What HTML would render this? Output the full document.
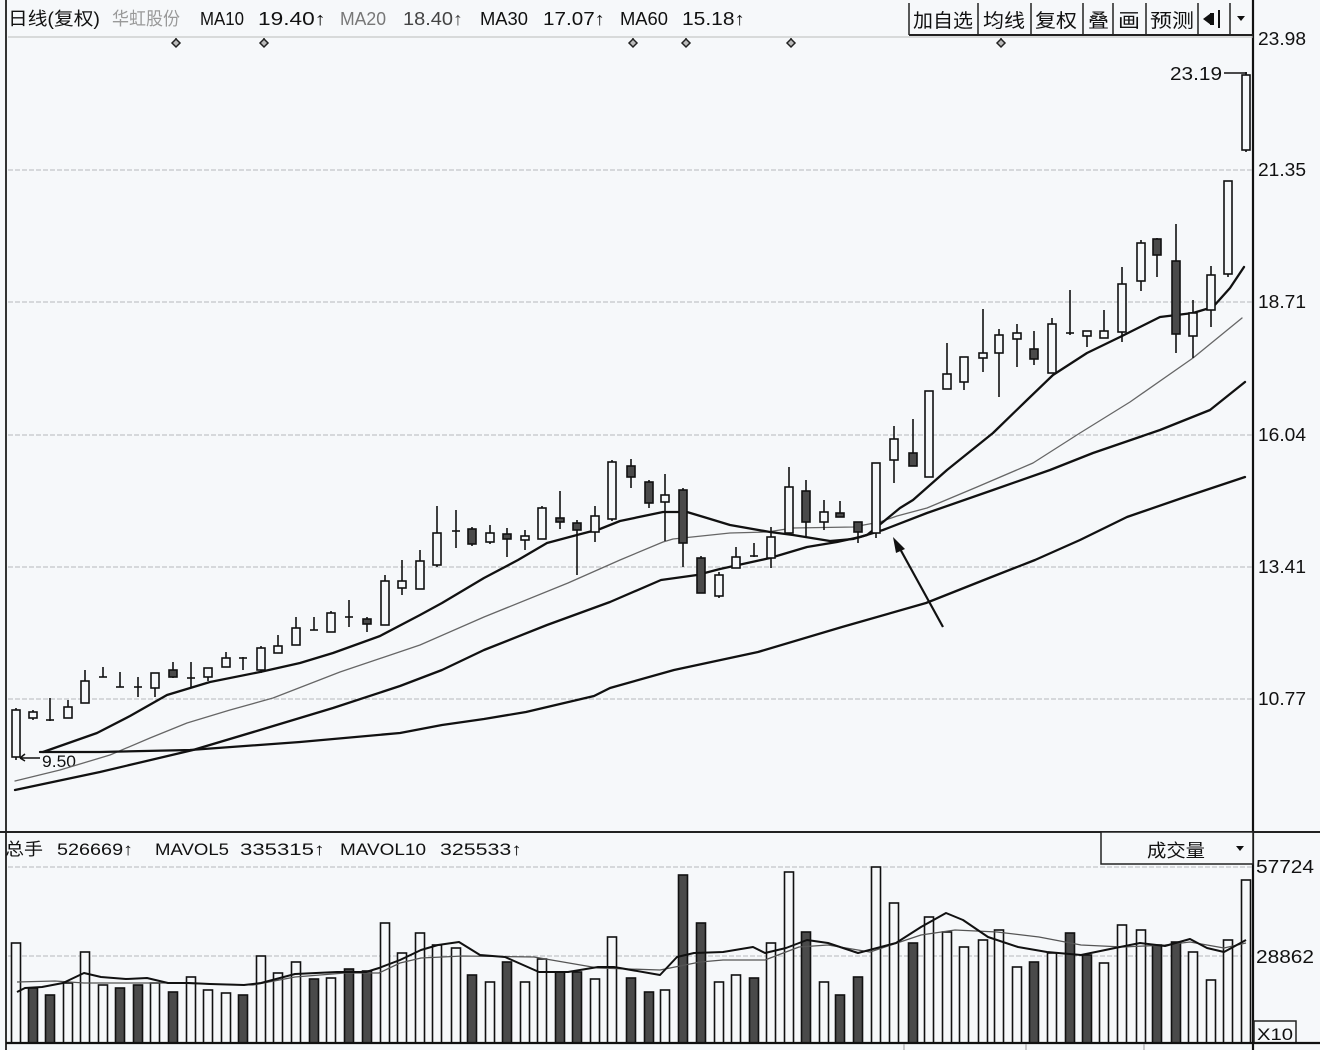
<!DOCTYPE html>
<html><head><meta charset="utf-8"><style>
html,body{margin:0;padding:0;background:#f6f8fa;overflow:hidden}
svg{display:block}
text{font-family:"Liberation Sans","Noto Sans CJK SC",sans-serif;fill:#111}
.w{fill:#f6f8fa;stroke:#111;stroke-width:1.6}
.d{fill:#4a4a4a;stroke:#111;stroke-width:1.6}
.k line{stroke:#111;stroke-width:1.6}
</style></head><body>
<svg width="1320" height="1050" viewBox="0 0 1320 1050" xmlns="http://www.w3.org/2000/svg">
<rect x="0" y="0" width="1320" height="1050" fill="#f6f8fa"/>
<!-- borders -->
<line x1="6" y1="0" x2="6" y2="1050" stroke="#333" stroke-width="2"/>
<line x1="1253" y1="0" x2="1253" y2="1050" stroke="#111" stroke-width="2.2"/>
<line x1="8" y1="37" x2="1253" y2="37" stroke="#bbb" stroke-width="1"/>
<!-- price grid -->
<g stroke="#b5b8bc" stroke-width="1" stroke-dasharray="5 2">
<line x1="8" y1="170" x2="1253" y2="170"/>
<line x1="8" y1="302" x2="1253" y2="302"/>
<line x1="8" y1="435" x2="1253" y2="435"/>
<line x1="8" y1="567" x2="1253" y2="567"/>
<line x1="8" y1="699" x2="1253" y2="699"/>
<line x1="8" y1="867" x2="1253" y2="867"/>
<line x1="8" y1="956" x2="1253" y2="956"/>
</g>
<!-- header -->
<g font-size="18">
<text x="8" y="25" textLength="92" lengthAdjust="spacingAndGlyphs">日线(复权)</text>
<text x="112" y="25" textLength="68" lengthAdjust="spacingAndGlyphs" style="fill:#999">华虹股份</text>
<text x="200" y="25" textLength="44" lengthAdjust="spacingAndGlyphs">MA10</text>
<text x="258" y="25" textLength="68" lengthAdjust="spacingAndGlyphs">19.40↑</text>
<text x="340" y="25" textLength="46" lengthAdjust="spacingAndGlyphs" style="fill:#777">MA20</text>
<text x="403" y="25" textLength="60" lengthAdjust="spacingAndGlyphs" style="fill:#444">18.40↑</text>
<text x="480" y="25" textLength="48" lengthAdjust="spacingAndGlyphs">MA30</text>
<text x="543" y="25" textLength="62" lengthAdjust="spacingAndGlyphs">17.07↑</text>
<text x="620" y="25" textLength="48" lengthAdjust="spacingAndGlyphs">MA60</text>
<text x="682" y="25" textLength="63" lengthAdjust="spacingAndGlyphs">15.18↑</text>
</g>
<!-- diamonds -->
<g stroke="#222" stroke-width="1.5" fill="#bbb">
<path d="M176 38v2M172 43l4-4 4 4-4 4z"/>
<path d="M264 38v2M260 43l4-4 4 4-4 4z"/>
<path d="M633 38v2M629 43l4-4 4 4-4 4z"/>
<path d="M686 38v2M682 43l4-4 4 4-4 4z"/>
<path d="M791 38v2M787 43l4-4 4 4-4 4z"/>
<path d="M1001 38v2M997 43l4-4 4 4-4 4z"/>
</g>
<!-- toolbar -->
<g stroke="#222" stroke-width="1.5">
<line x1="909" y1="3" x2="909" y2="35"/>
<line x1="978" y1="3" x2="978" y2="35"/>
<line x1="1031" y1="3" x2="1031" y2="35"/>
<line x1="1083" y1="3" x2="1083" y2="35"/>
<line x1="1113" y1="3" x2="1113" y2="35"/>
<line x1="1146" y1="3" x2="1146" y2="35"/>
<line x1="1198" y1="3" x2="1198" y2="35"/>
<line x1="1230" y1="3" x2="1230" y2="35"/>
<line x1="909" y1="35" x2="1253" y2="35" stroke-width="2"/>
</g>
<g font-size="19">
<text x="913" y="27" textLength="60" lengthAdjust="spacingAndGlyphs">加自选</text>
<text x="983" y="27" textLength="42" lengthAdjust="spacingAndGlyphs">均线</text>
<text x="1035" y="27" textLength="42" lengthAdjust="spacingAndGlyphs">复权</text>
<text x="1088" y="27" textLength="21" lengthAdjust="spacingAndGlyphs">叠</text>
<text x="1118" y="27" textLength="22" lengthAdjust="spacingAndGlyphs">画</text>
<text x="1150" y="27" textLength="44" lengthAdjust="spacingAndGlyphs">预测</text>
</g>
<path d="M1203 19l8-6v12z" fill="#111"/><rect x="1210" y="13" width="4" height="12" fill="#111"/><line x1="1219" y1="10" x2="1219" y2="28" stroke="#111" stroke-width="2"/>
<path d="M1237 16h8l-4 5z" fill="#111"/>
<!-- axis labels -->
<g font-size="18">
<text x="1258" y="45" textLength="48" lengthAdjust="spacingAndGlyphs">23.98</text>
<text x="1258" y="176" textLength="48" lengthAdjust="spacingAndGlyphs">21.35</text>
<text x="1258" y="308" textLength="48" lengthAdjust="spacingAndGlyphs">18.71</text>
<text x="1258" y="441" textLength="48" lengthAdjust="spacingAndGlyphs">16.04</text>
<text x="1258" y="573" textLength="48" lengthAdjust="spacingAndGlyphs">13.41</text>
<text x="1258" y="705" textLength="48" lengthAdjust="spacingAndGlyphs">10.77</text>
<text x="1256" y="873" textLength="58" lengthAdjust="spacingAndGlyphs">57724</text>
<text x="1256" y="963" textLength="58" lengthAdjust="spacingAndGlyphs">28862</text>
</g>
<rect x="1254" y="1021" width="42" height="22" fill="none" stroke="#222" stroke-width="1.5"/>
<text x="1257" y="1040" font-size="17" textLength="36" lengthAdjust="spacingAndGlyphs">X10</text>
<!-- price labels -->
<text x="1170" y="80" font-size="18" textLength="52" lengthAdjust="spacingAndGlyphs">23.19</text>
<line x1="1224" y1="73" x2="1247" y2="73" stroke="#111" stroke-width="1.5"/>
<text x="42" y="767" font-size="17" textLength="34" lengthAdjust="spacingAndGlyphs">9.50</text>
<path d="M20 758L40 758M20 758l5-4M20 758l5 3" stroke="#111" stroke-width="1.5" fill="none"/>
<!-- MA lines -->
<g fill="none" stroke-linejoin="round" stroke-linecap="round">
<polyline stroke="#666" stroke-width="1.3" points="15,781 60,770 110,755 150,738 187,723 230,710 273,698 340,672 420,645 484,617 568,583 620,560 663,542 673,539 730,533 767,532 793,528 853,527 880,522 897,516 927,508 977,487 1033,463 1080,433 1130,402 1193,358 1242,318"/>
<polyline stroke="#111" stroke-width="2.3" points="40,752 100,752 190,750 300,742 400,733 442,725 484,719 526,712 594,696 610,688 674,670 758,652 842,627 926,603 989,578 1035,560 1080,540 1127,517 1185,497 1245,477"/>
<polyline stroke="#111" stroke-width="2.3" points="15,790 100,772 193,750 260,730 333,708 400,686 442,670 484,650 547,625 610,602 661,580 697,575 720,569 770,558 807,547 837,542 860,537 883,530 927,513 993,490 1050,470 1093,453 1160,430 1210,410 1245,382"/>
<polyline stroke="#111" stroke-width="2.3" points="43,752 97,733 130,716 167,695 210,682 260,672 300,663 333,653 380,636 420,615 442,603 484,578 518,560 547,543 577,535 600,529 620,521 663,512 687,512 707,518 730,525 770,532 793,535 830,541 853,539 867,535 883,522 900,508 913,500 947,470 993,433 1027,400 1053,375 1087,353 1120,337 1160,317 1193,313 1213,307 1230,288 1244,267"/>
</g>
<!-- candles -->
<g class="k">
<line x1="16" y1="708" x2="16" y2="760"/><rect class="w" x="12" y="710" width="8" height="47"/>
<line x1="33" y1="710" x2="33" y2="720"/><rect class="w" x="29" y="712" width="8" height="6"/>
<line x1="50" y1="698" x2="50" y2="721"/><line x1="46" y1="720" x2="54" y2="720"/>
<line x1="68" y1="700" x2="68" y2="718"/><rect class="w" x="64" y="707" width="8" height="11"/>
<line x1="85" y1="670" x2="85" y2="703"/><rect class="w" x="81" y="681" width="8" height="22"/>
<line x1="103" y1="667" x2="103" y2="677"/><line x1="99" y1="677" x2="107" y2="677"/>
<line x1="120" y1="672" x2="120" y2="687"/><line x1="116" y1="687" x2="124" y2="687"/>
<line x1="138" y1="677" x2="138" y2="697"/><line x1="134" y1="687" x2="142" y2="687"/>
<line x1="155" y1="673" x2="155" y2="697"/><rect class="w" x="151" y="673" width="8" height="15"/>
<line x1="173" y1="662" x2="173" y2="678"/><rect class="d" x="169" y="670" width="8" height="7"/>
<line x1="191" y1="662" x2="191" y2="688"/><line x1="187" y1="678" x2="195" y2="678"/>
<line x1="208" y1="668" x2="208" y2="681"/><rect class="w" x="204" y="668" width="8" height="9"/>
<line x1="226" y1="652" x2="226" y2="667"/><rect class="w" x="222" y="658" width="8" height="9"/>
<line x1="243" y1="657" x2="243" y2="670"/><line x1="239" y1="658" x2="247" y2="658"/>
<line x1="261" y1="646" x2="261" y2="673"/><rect class="w" x="257" y="648" width="8" height="22"/>
<line x1="278" y1="635" x2="278" y2="653"/><rect class="w" x="274" y="646" width="8" height="7"/>
<line x1="296" y1="617" x2="296" y2="645"/><rect class="w" x="292" y="628" width="8" height="17"/>
<line x1="314" y1="617" x2="314" y2="630"/><line x1="310" y1="630" x2="318" y2="630"/>
<line x1="331" y1="611" x2="331" y2="632"/><rect class="w" x="327" y="613" width="8" height="19"/>
<line x1="349" y1="600" x2="349" y2="627"/><line x1="345" y1="617" x2="353" y2="617"/>
<line x1="367" y1="617" x2="367" y2="632"/><rect class="d" x="363" y="619" width="8" height="5"/>
<line x1="385" y1="575" x2="385" y2="625"/><rect class="w" x="381" y="581" width="8" height="44"/>
<line x1="402" y1="560" x2="402" y2="595"/><rect class="w" x="398" y="581" width="8" height="7"/>
<line x1="420" y1="550" x2="420" y2="589"/><rect class="w" x="416" y="561" width="8" height="28"/>
<line x1="437" y1="506" x2="437" y2="567"/><rect class="w" x="433" y="533" width="8" height="32"/>
<line x1="456" y1="510" x2="456" y2="548"/><line x1="452" y1="531" x2="460" y2="531"/>
<line x1="472" y1="527" x2="472" y2="546"/><rect class="d" x="468" y="529" width="8" height="15"/>
<line x1="490" y1="525" x2="490" y2="544"/><rect class="w" x="486" y="533" width="8" height="9"/>
<line x1="507" y1="528" x2="507" y2="557"/><rect class="d" x="503" y="534" width="8" height="5"/>
<line x1="525" y1="530" x2="525" y2="550"/><rect class="w" x="521" y="536" width="8" height="4"/>
<line x1="542" y1="506" x2="542" y2="539"/><rect class="w" x="538" y="508" width="8" height="31"/>
<line x1="560" y1="491" x2="560" y2="529"/><rect class="d" x="556" y="518" width="8" height="4"/>
<line x1="577" y1="520" x2="577" y2="575"/><rect class="d" x="573" y="523" width="8" height="7"/>
<line x1="595" y1="506" x2="595" y2="542"/><rect class="w" x="591" y="516" width="8" height="16"/>
<line x1="612" y1="460" x2="612" y2="521"/><rect class="w" x="608" y="462" width="8" height="57"/>
<line x1="631" y1="459" x2="631" y2="488"/><rect class="d" x="627" y="466" width="8" height="11"/>
<line x1="649" y1="480" x2="649" y2="508"/><rect class="d" x="645" y="482" width="8" height="21"/>
<line x1="665" y1="474" x2="665" y2="541"/><rect class="w" x="661" y="495" width="8" height="7"/>
<line x1="683" y1="488" x2="683" y2="567"/><rect class="d" x="679" y="490" width="8" height="53"/>
<line x1="701" y1="556" x2="701" y2="593"/><rect class="d" x="697" y="558" width="8" height="35"/>
<line x1="719" y1="572" x2="719" y2="598"/><rect class="w" x="715" y="575" width="8" height="21"/>
<line x1="736" y1="547" x2="736" y2="568"/><rect class="w" x="732" y="557" width="8" height="11"/>
<line x1="754" y1="543" x2="754" y2="557"/><line x1="750" y1="556" x2="758" y2="556"/>
<line x1="771" y1="527" x2="771" y2="568"/><rect class="w" x="767" y="537" width="8" height="21"/>
<line x1="789" y1="467" x2="789" y2="533"/><rect class="w" x="785" y="487" width="8" height="46"/>
<line x1="806" y1="480" x2="806" y2="538"/><rect class="d" x="802" y="491" width="8" height="31"/>
<line x1="824" y1="500" x2="824" y2="530"/><rect class="w" x="820" y="512" width="8" height="10"/>
<line x1="840" y1="501" x2="840" y2="517"/><rect class="d" x="836" y="513" width="8" height="4"/>
<line x1="858" y1="522" x2="858" y2="543"/><rect class="d" x="854" y="522" width="8" height="10"/>
<line x1="876" y1="463" x2="876" y2="538"/><rect class="w" x="872" y="463" width="8" height="70"/>
<line x1="894" y1="426" x2="894" y2="483"/><rect class="w" x="890" y="439" width="8" height="21"/>
<line x1="913" y1="419" x2="913" y2="466"/><rect class="d" x="909" y="453" width="8" height="13"/>
<line x1="929" y1="391" x2="929" y2="477"/><rect class="w" x="925" y="391" width="8" height="86"/>
<line x1="947" y1="343" x2="947" y2="389"/><rect class="w" x="943" y="374" width="8" height="15"/>
<line x1="964" y1="357" x2="964" y2="390"/><rect class="w" x="960" y="357" width="8" height="25"/>
<line x1="983" y1="309" x2="983" y2="372"/><rect class="w" x="979" y="353" width="8" height="5"/>
<line x1="999" y1="329" x2="999" y2="397"/><rect class="w" x="995" y="335" width="8" height="18"/>
<line x1="1017" y1="324" x2="1017" y2="367"/><rect class="w" x="1013" y="333" width="8" height="6"/>
<line x1="1034" y1="331" x2="1034" y2="365"/><rect class="d" x="1030" y="349" width="8" height="10"/>
<line x1="1052" y1="318" x2="1052" y2="373"/><rect class="w" x="1048" y="324" width="8" height="49"/>
<line x1="1070" y1="290" x2="1070" y2="335"/><line x1="1066" y1="333" x2="1074" y2="333"/>
<line x1="1087" y1="331" x2="1087" y2="347"/><rect class="w" x="1083" y="331" width="8" height="5"/>
<line x1="1104" y1="310" x2="1104" y2="338"/><rect class="w" x="1100" y="331" width="8" height="7"/>
<line x1="1122" y1="267" x2="1122" y2="342"/><rect class="w" x="1118" y="284" width="8" height="48"/>
<line x1="1141" y1="240" x2="1141" y2="291"/><rect class="w" x="1137" y="243" width="8" height="38"/>
<line x1="1157" y1="238" x2="1157" y2="277"/><rect class="d" x="1153" y="239" width="8" height="16"/>
<line x1="1176" y1="224" x2="1176" y2="353"/><rect class="d" x="1172" y="261" width="8" height="73"/>
<line x1="1193" y1="300" x2="1193" y2="358"/><rect class="w" x="1189" y="313" width="8" height="23"/>
<line x1="1211" y1="266" x2="1211" y2="327"/><rect class="w" x="1207" y="275" width="8" height="35"/>
<line x1="1228" y1="181" x2="1228" y2="277"/><rect class="w" x="1224" y="181" width="8" height="93"/>
<line x1="1246" y1="72" x2="1246" y2="152"/><rect class="w" x="1242" y="75" width="8" height="75"/>
</g>
<!-- arrow -->
<line x1="943" y1="627" x2="899" y2="547" stroke="#111" stroke-width="2.2"/>
<polygon points="893,537 905,549 896,553" fill="#111"/>
<!-- volume panel -->
<line x1="0" y1="832" x2="1320" y2="832" stroke="#222" stroke-width="2"/>
<g font-size="17">
<text x="5" y="855" textLength="38" lengthAdjust="spacingAndGlyphs">总手</text>
<text x="57" y="855" textLength="76" lengthAdjust="spacingAndGlyphs">526669↑</text>
<text x="155" y="855" textLength="74" lengthAdjust="spacingAndGlyphs">MAVOL5</text>
<text x="240" y="855" textLength="85" lengthAdjust="spacingAndGlyphs">335315↑</text>
<text x="340" y="855" textLength="86" lengthAdjust="spacingAndGlyphs">MAVOL10</text>
<text x="440" y="855" textLength="82" lengthAdjust="spacingAndGlyphs">325533↑</text>
</g>
<rect x="1101" y="832" width="152" height="32" fill="#f6f8fa" stroke="#222" stroke-width="1.5"/>
<text x="1147" y="857" font-size="18" textLength="58" lengthAdjust="spacingAndGlyphs">成交量</text>
<path d="M1236 846h8l-4 5z" fill="#111"/>
<!-- volume bars -->
<g>
<rect class="w" x="11.5" y="943" width="9" height="100"/>
<rect class="d" x="28.5" y="988" width="9" height="55"/>
<rect class="d" x="45.5" y="995" width="9" height="48"/>
<rect class="w" x="63.5" y="983" width="9" height="60"/>
<rect class="w" x="80.5" y="952" width="9" height="91"/>
<rect class="w" x="98.5" y="985" width="9" height="58"/>
<rect class="d" x="115.5" y="988" width="9" height="55"/>
<rect class="d" x="133.5" y="985" width="9" height="58"/>
<rect class="w" x="150.5" y="983" width="9" height="60"/>
<rect class="d" x="168.5" y="992" width="9" height="51"/>
<rect class="w" x="186.5" y="977" width="9" height="66"/>
<rect class="w" x="203.5" y="990" width="9" height="53"/>
<rect class="w" x="221.5" y="993" width="9" height="50"/>
<rect class="d" x="238.5" y="995" width="9" height="48"/>
<rect class="w" x="256.5" y="956" width="9" height="87"/>
<rect class="w" x="273.5" y="973" width="9" height="70"/>
<rect class="w" x="291.5" y="962" width="9" height="81"/>
<rect class="d" x="309.5" y="979" width="9" height="64"/>
<rect class="w" x="326.5" y="978" width="9" height="65"/>
<rect class="d" x="344.5" y="969" width="9" height="74"/>
<rect class="d" x="362.5" y="971" width="9" height="72"/>
<rect class="w" x="380.5" y="923" width="9" height="120"/>
<rect class="w" x="397.5" y="953" width="9" height="90"/>
<rect class="w" x="415.5" y="933" width="9" height="110"/>
<rect class="w" x="432.5" y="945" width="9" height="98"/>
<rect class="w" x="451.5" y="948" width="9" height="95"/>
<rect class="d" x="467.5" y="975" width="9" height="68"/>
<rect class="w" x="485.5" y="982" width="9" height="61"/>
<rect class="d" x="502.5" y="962" width="9" height="81"/>
<rect class="w" x="520.5" y="982" width="9" height="61"/>
<rect class="w" x="537.5" y="959" width="9" height="84"/>
<rect class="d" x="555.5" y="972" width="9" height="71"/>
<rect class="d" x="572.5" y="972" width="9" height="71"/>
<rect class="w" x="590.5" y="979" width="9" height="64"/>
<rect class="w" x="607.5" y="937" width="9" height="106"/>
<rect class="d" x="626.5" y="978" width="9" height="65"/>
<rect class="d" x="644.5" y="992" width="9" height="51"/>
<rect class="w" x="660.5" y="990" width="9" height="53"/>
<rect class="d" x="678.5" y="875" width="9" height="168"/>
<rect class="d" x="696.5" y="923" width="9" height="120"/>
<rect class="w" x="714.5" y="982" width="9" height="61"/>
<rect class="w" x="731.5" y="975" width="9" height="68"/>
<rect class="d" x="749.5" y="978" width="9" height="65"/>
<rect class="w" x="766.5" y="943" width="9" height="100"/>
<rect class="w" x="784.5" y="872" width="9" height="171"/>
<rect class="d" x="801.5" y="932" width="9" height="111"/>
<rect class="w" x="819.5" y="982" width="9" height="61"/>
<rect class="d" x="835.5" y="995" width="9" height="48"/>
<rect class="d" x="853.5" y="977" width="9" height="66"/>
<rect class="w" x="871.5" y="867" width="9" height="176"/>
<rect class="w" x="889.5" y="903" width="9" height="140"/>
<rect class="d" x="908.5" y="943" width="9" height="100"/>
<rect class="w" x="924.5" y="917" width="9" height="126"/>
<rect class="w" x="942.5" y="932" width="9" height="111"/>
<rect class="w" x="959.5" y="947" width="9" height="96"/>
<rect class="w" x="978.5" y="940" width="9" height="103"/>
<rect class="w" x="994.5" y="930" width="9" height="113"/>
<rect class="w" x="1012.5" y="967" width="9" height="76"/>
<rect class="d" x="1029.5" y="962" width="9" height="81"/>
<rect class="w" x="1047.5" y="953" width="9" height="90"/>
<rect class="d" x="1065.5" y="933" width="9" height="110"/>
<rect class="d" x="1082.5" y="955" width="9" height="88"/>
<rect class="w" x="1099.5" y="963" width="9" height="80"/>
<rect class="w" x="1117.5" y="925" width="9" height="118"/>
<rect class="w" x="1136.5" y="930" width="9" height="113"/>
<rect class="d" x="1152.5" y="945" width="9" height="98"/>
<rect class="d" x="1171.5" y="942" width="9" height="101"/>
<rect class="w" x="1188.5" y="952" width="9" height="91"/>
<rect class="w" x="1206.5" y="980" width="9" height="63"/>
<rect class="w" x="1223.5" y="940" width="9" height="103"/>
<rect class="w" x="1241.5" y="880" width="9" height="163"/>
</g>
<g fill="none" stroke-linejoin="round">
<polyline stroke="#555" stroke-width="1.3" points="17,982 55,981 84,983 168,983 253,985 295,977 345,973 379,973 400,963 421,958 463,956 534,957 598,968 660,970 700,962 723,960 765,960 799,947 828,945 870,952 921,935 955,930 997,932 1039,937 1081,945 1123,947 1165,945 1190,942 1224,948 1246,943"/>
<polyline stroke="#111" stroke-width="2" points="17,992 25,988 42,987 63,983 84,973 101,977 126,979 147,978 168,983 189,983 210,984 244,985 261,983 295,974 337,972 366,972 379,968 400,960 421,950 438,945 459,942 480,955 505,957 539,972 568,972 598,967 614,967 660,975 677,957 694,953 723,952 753,947 765,953 786,948 807,940 828,943 858,953 896,943 921,927 946,913 963,920 988,937 1018,947 1047,952 1081,955 1115,948 1140,943 1165,946 1190,939 1207,948 1224,952 1246,940"/>
</g>
<line x1="6" y1="1043" x2="1320" y2="1043" stroke="#111" stroke-width="2.2"/>
<g stroke="#999" stroke-width="1" fill="none">
<line x1="904" y1="1044" x2="904" y2="1050"/><line x1="1026" y1="1044" x2="1026" y2="1050"/><line x1="1144" y1="1044" x2="1144" y2="1050"/>
</g>
</svg>
</body></html>
